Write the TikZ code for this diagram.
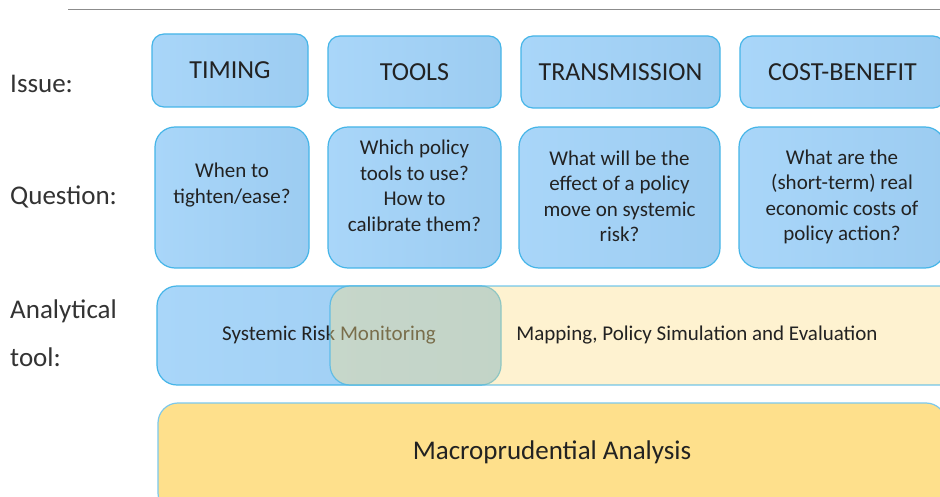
\documentclass[tikz,border=0pt]{standalone}
\usepackage{fontspec}
\setmainfont{Carlito}
\definecolor{bordblue}{HTML}{45B5E8}
\definecolor{blueL}{HTML}{A9D6F9}
\definecolor{blueR}{HTML}{9CCCF1}
\definecolor{yellowF}{HTML}{FDE08A}
\definecolor{macroF}{HTML}{FEE08C}
\definecolor{lightbord}{HTML}{7CC8EC}
\definecolor{labelgray}{HTML}{333333}
\definecolor{txtdark}{HTML}{222222}
\definecolor{rulegray}{HTML}{8C8C8C}
\begin{document}
\begin{tikzpicture}[x=1pt,y=-1pt,
  bluebox/.style={draw=bordblue, line width=1.2pt, left color=blueL, right color=blueR, inner sep=0pt},
  issuebox/.style={bluebox, rounded corners=12pt},
  qbox/.style={bluebox, rounded corners=20pt, minimum height=141pt},
  lbl/.style={anchor=west, inner sep=0pt, text=labelgray, font=\fontsize{27}{32}\selectfont},
  issuetxt/.style={inner sep=0pt, text=txtdark, font=\fontsize{26}{31}\selectfont},
  macrotxt/.style={inner sep=0pt, text=txtdark, font=\fontsize{27}{32}\selectfont},
  qtxt/.style={inner sep=0pt, align=center, text=txtdark, font=\fontsize{21}{25.5}\selectfont},
  tooltxt/.style={inner sep=0pt, text=txtdark, font=\fontsize{21}{25}\selectfont}]
\path[use as bounding box] (0,0) rectangle (940,497);
\clip (0,0) rectangle (940,497);
\fill[white] (0,0) rectangle (940,497);

% top rule
\coordinate (ruleL) at (68,10);
\coordinate (ruleR) at (940,10);
\draw[rulegray, line width=1pt] (ruleL) -- (ruleR);

% row labels
\node[lbl] (lIssue) at (10,84) {Issue:};
\node[lbl] (lQuestion) at (10,197) {Question:};
\node[lbl] (lAnal) at (10,311) {Analytical};
\node[lbl] (lTool) at (10,357) {tool:};

% issue row
\node[issuebox, minimum width=156pt, minimum height=73pt] (iTiming) at (230,70.5) {};
\node[issuetxt] (tTiming) at (230,70) {TIMING};
\node[issuebox, minimum width=173pt, minimum height=72pt] (iTools) at (414.5,72) {};
\node[issuetxt] (tTools) at (414.5,72) {TOOLS};
\node[issuebox, minimum width=199pt, minimum height=72pt] (iTrans) at (620.5,72) {};
\node[issuetxt] (tTrans) at (620.5,72) {TRANSMISSION};
\node[issuebox, minimum width=205pt, minimum height=72pt] (iCost) at (842.5,72) {};
\node[issuetxt] (tCost) at (842.5,72) {COST-BENEFIT};

% question row
\node[qbox, minimum width=154pt] (q1) at (232,197.5) {};
\node[qtxt] (q1t) at (232,185) {When to\\tighten/ease?};
\node[qbox, minimum width=173pt] (q2) at (414.5,197.5) {};
\node[qtxt] (q2t) at (414.5,186) {Which policy\\tools to use?\\How to\\calibrate them?};
\node[qbox, minimum width=201pt] (q3) at (619.5,197.5) {};
\node[qtxt] (q3t) at (619.5,196.5) {What will be the\\effect of a policy\\move on systemic\\risk?};
\node[qbox, minimum width=206pt] (q4) at (842,197.5) {};
\node[qtxt] (q4t) at (842,197) {What are the\\(short-term) real\\economic costs of\\policy action?};

% analytical tool row
\node[bluebox, rounded corners=20pt, minimum width=344pt, minimum height=99pt] (srm) at (329,335.5) {};
\node[tooltxt] (srmt) at (329,335) {Systemic Risk Monitoring};
\node[draw=bordblue, draw opacity=0.75, line width=1.2pt, fill=yellowF, fill opacity=0.4, rounded corners=20pt, minimum width=734pt, minimum height=99pt, inner sep=0pt] (mps) at (697,335.5) {};
\node[tooltxt] (mpst) at (697,335) {Mapping, Policy Simulation and Evaluation};

% macroprudential analysis
\node[draw=lightbord, line width=1.2pt, fill=macroF, rounded corners=20pt, minimum width=788pt, minimum height=110pt, inner sep=0pt] (macro) at (552,458) {};
\node[macrotxt] (macrot) at (552,452) {Macroprudential Analysis};
\end{tikzpicture}
\end{document}
